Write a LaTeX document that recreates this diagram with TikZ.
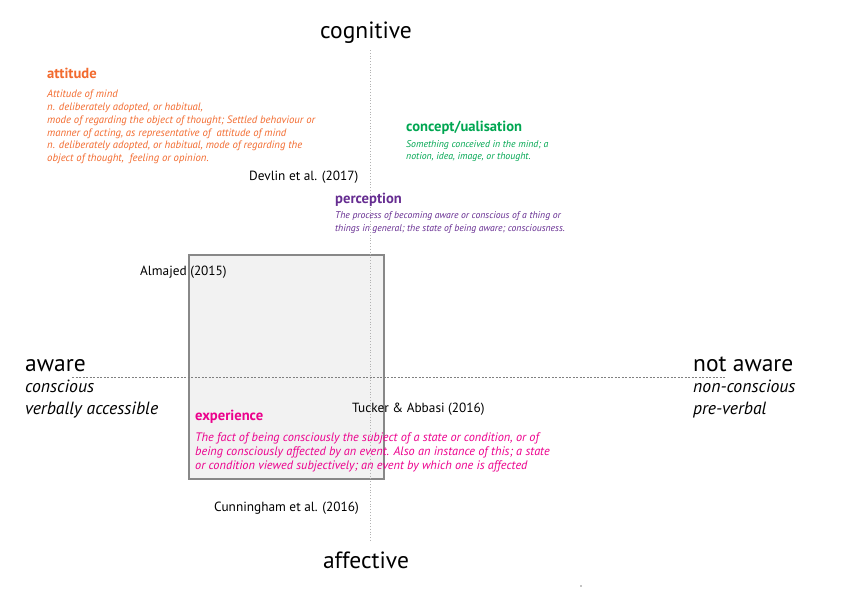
\documentclass[tikz,border=0pt]{standalone}
\usepackage{fontspec}
\setmainfont{PT Sans}
\usetikzlibrary{positioning}
\definecolor{attitudecol}{HTML}{F26A2E}
\definecolor{conceptcol}{HTML}{00A651}
\definecolor{perceptcol}{HTML}{662D91}
\definecolor{experiencecol}{HTML}{EC008C}
\definecolor{framecol}{HTML}{888888}
\definecolor{fillcol}{HTML}{F2F2F2}
\tikzset{
  polename/.style={font=\fontsize{23.5}{26}\selectfont, inner sep=0pt},
  polenote/.style={font=\itshape\fontsize{17.7}{22}\selectfont, inner sep=0pt, anchor=base west},
  termhead/.style={font=\bfseries\fontsize{14.6}{17}\selectfont, inner sep=0pt, anchor=base west},
  termtext/.style={inner sep=0pt, align=left, anchor=north west},
  citation/.style={font=\fontsize{13.3}{15}\selectfont, inner sep=0pt, anchor=base west},
}
\begin{document}
\begin{tikzpicture}[x=1pt,y=-1pt]
        \useasboundingbox (0,0) rectangle (842,595);
        % Shaded region
        \draw[framecol,line width=2.6pt,fill=fillcol] (189,255) rectangle (384,479);
        % Axes
        \coordinate (topend) at (370,50);
        \coordinate (bottomend) at (370,542);
        \coordinate (leftend) at (72,377);
        \coordinate (rightend) at (726,377);
        \draw[gray!60,dotted,line width=0.8pt] (topend) -- (bottomend);
        \draw[gray,dash pattern=on 2pt off 1.5pt,line width=0.5pt] (leftend) -- (rightend);
        % Poles
        \node[polename,anchor=base] (cognitive) at (366,38.5) {cognitive};
        \node[polename,anchor=base] (affective) at (366,568) {affective};
        \node[polename,anchor=base west] (aware) at (25,371) {aware};
        \node[polenote] (conscious) at (25,392) {conscious};
        \node[polenote] (verbal) at (25,414) {verbally accessible};
        \node[polename,anchor=base west] (notaware) at (693,371) {not aware};
        \node[polenote] (nonconscious) at (693,392) {non-conscious};
        \node[polenote] (preverbal) at (693,414) {pre-verbal};
        % Terms
        \node[termhead,text=attitudecol] (attitude) at (47,78.5) {attitude};
        \node[termtext,text=attitudecol,font=\itshape\fontsize{10.7}{12.9}\selectfont] (attitudetext) at (47,89.5) {Attitude of mind\\n. deliberately adopted, or habitual,\\mode of regarding the object of thought; Settled behaviour or\\manner of acting, as representative of\ \ attitude of mind\\n. deliberately adopted, or habitual, mode of regarding the\\object of thought,\ \ feeling or opinion.};
        \node[termhead,text=conceptcol] (concept) at (406,131.5) {concept/ualisation};
        \node[termtext,text=conceptcol,font=\itshape\fontsize{9.8}{12.7}\selectfont] (concepttext) at (406,140) {Something conceived in the mind; a\\notion, idea, image, or thought.};
        \node[termhead,text=perceptcol] (perception) at (335,203) {perception};
        \node[termtext,text=perceptcol,font=\itshape\fontsize{9.7}{12.6}\selectfont] (perceptiontext) at (335,211.5) {The process of becoming aware or conscious of a thing or\\things in general; the state of being aware; consciousness.};
        \node[termhead,text=experiencecol] (experience) at (195,420.5) {experience};
        \node[termtext,text=experiencecol,font=\itshape\fontsize{12.3}{13.8}\selectfont] (experiencetext) at (195,433) {The fact of being consciously the subject of a state or condition, or of\\being consciously affected by an event. Also an instance of this; a state\\or condition viewed subjectively; an event by which one is affected};
        % Studies
        \node[citation] (devlin) at (249,180) {Devlin et al. (2017)};
        \node[citation] (almajed) at (140,275) {Almajed (2015)};
        \node[citation] (tucker) at (352,412) {Tucker \& Abbasi (2016)};
        \node[citation] (cunningham) at (214,511) {Cunningham et al. (2016)};
        \fill (581,586) circle (0.6);
    \end{tikzpicture}
\end{document}
